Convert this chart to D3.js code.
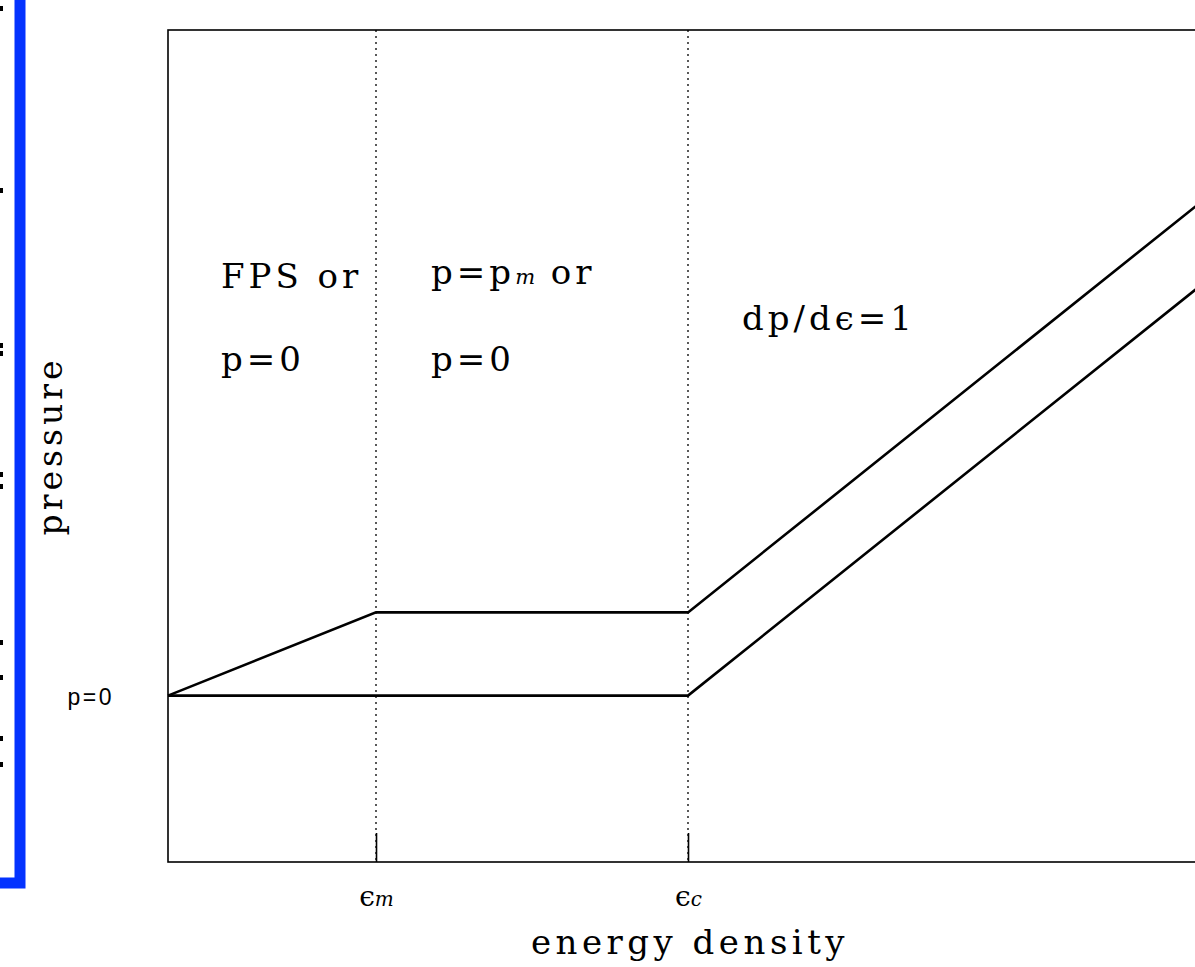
<!DOCTYPE html>
<html>
<head>
<meta charset="utf-8">
<script src="https://cdn.jsdelivr.net/npm/d3@7"></script>
<style>
  html, body { margin: 0; padding: 0; background: #fff; overflow: hidden; }
  svg { display: block; }
  .serif { font-family: "DejaVu Serif", serif; fill: #000; }
</style>
</head>
<body>
<div id="chart"></div>
<script>
// energy density in units where eps_c - eps_m spans three steps, pressure in units of p_m
const xDomain = [0, 10];
const yDomain = [-2, 8];
const epsTicks = [2, 5];
const epsTickNames = ["m", "c"];
const pZeroTick = [0];
const lowerEos = [[0, 0], [5, 0], [10, 5]];
const upperEos = [[0, 0], [2, 1], [5, 1], [10, 6]];
const regionLabels = [
  { x: 0.51, y: 4.9, parts: [["FPS or", false]] },
  { x: 0.51, y: 3.9, parts: [["p=0", false]] },
  { x: 2.53, y: 4.95, parts: [["p=p", false], ["m", true], [" or", false]] },
  { x: 2.53, y: 3.9, parts: [["p=0", false]] },
  { x: 5.52, y: 4.4, parts: [["dp/d\u03f5=1", false]] }
];

const width = 1195, height = 967;

const svg = d3.select("#chart").append("svg")
  .attr("width", width)
  .attr("height", height);

const x = d3.scaleLinear().domain(xDomain).range([168, 1208]);
const y = d3.scaleLinear().domain(yDomain).range([862, 30]);

// stray marks and blue frame on the left edge
const edgeMarks = [6, 188, 343, 351, 472, 484, 640, 675, 736, 762];
svg.selectAll(".edge")
  .data(edgeMarks)
  .join("rect")
  .attr("x", 0)
  .attr("y", d => d)
  .attr("width", 3)
  .attr("height", 5)
  .attr("fill", "#000");

svg.append("path")
  .attr("d", "M20,0 V883 H0")
  .attr("fill", "none")
  .attr("stroke", "#0433ff")
  .attr("stroke-width", 11);

// frame
svg.append("rect")
  .attr("x", x(xDomain[0]))
  .attr("y", y(yDomain[1]))
  .attr("width", x(xDomain[1]) - x(xDomain[0]))
  .attr("height", y(yDomain[0]) - y(yDomain[1]))
  .attr("fill", "none")
  .attr("stroke", "#000")
  .attr("stroke-width", 1.6);

// dotted guides at eps_m, eps_c
svg.selectAll(".guide")
  .data(epsTicks)
  .join("line")
  .attr("x1", d => x(d))
  .attr("x2", d => x(d))
  .attr("y1", y(yDomain[1]))
  .attr("y2", y(yDomain[0]))
  .attr("stroke", "#000")
  .attr("stroke-width", 1.3)
  .attr("stroke-dasharray", "2,4");

// x axis with inward ticks
const xAxis = svg.append("g")
  .attr("transform", `translate(0,${y(yDomain[0])})`)
  .call(d3.axisBottom(x).tickValues(epsTicks).tickSize(-29).tickPadding(24).tickFormat(""));
xAxis.select(".domain").remove();
xAxis.selectAll(".tick line").attr("stroke", "#000").attr("stroke-width", 1.6);
xAxis.selectAll(".tick text")
  .attr("class", "serif")
  .style("font-size", "28px")
  .each(function (d, i) {
    const t = d3.select(this);
    t.append("tspan").text("\u03f5");
    t.append("tspan")
      .style("font-style", "italic")
      .style("font-size", "20px")
      .text(epsTickNames[i]);
  });

// y axis p=0 label
const yAxis = svg.append("g")
  .attr("transform", `translate(${x(xDomain[0])},0)`)
  .call(d3.axisLeft(y).tickValues(pZeroTick).tickSize(0).tickPadding(54).tickFormat(() => "p=0"));
yAxis.select(".domain").remove();
yAxis.selectAll(".tick text")
  .style("font-family", "'Liberation Sans', Arial, sans-serif")
  .style("font-size", "23px")
  .style("letter-spacing", "2.5px")
  .attr("fill", "#000")
  .attr("dy", "0.4em");

// equation of state curves
const line = d3.line().x(d => x(d[0])).y(d => y(d[1]));
svg.selectAll(".eos")
  .data([lowerEos, upperEos])
  .join("path")
  .attr("d", line)
  .attr("fill", "none")
  .attr("stroke", "#000")
  .attr("stroke-width", 2.6)
  .attr("stroke-linejoin", "miter");

// region annotations
regionLabels.forEach(lab => {
  const t = svg.append("text")
    .attr("class", "serif")
    .attr("x", x(lab.x))
    .attr("y", y(lab.y))
    .style("font-size", "34px")
    .style("letter-spacing", "4px");
  lab.parts.forEach(([s, sub]) => {
    const ts = t.append("tspan").text(s);
    if (sub) ts.style("font-size", "21px").style("font-style", "italic").style("letter-spacing", "1px");
  });
});

// axis titles
svg.append("text")
  .attr("class", "serif")
  .attr("x", 690)
  .attr("y", 954)
  .attr("text-anchor", "middle")
  .style("font-size", "34px")
  .style("letter-spacing", "4.5px")
  .text("energy density");

svg.append("text")
  .attr("class", "serif")
  .attr("transform", "translate(62,446) rotate(-90)")
  .attr("text-anchor", "middle")
  .style("font-size", "33px")
  .style("letter-spacing", "4px")
  .text("pressure");
</script>
</body>
</html>
